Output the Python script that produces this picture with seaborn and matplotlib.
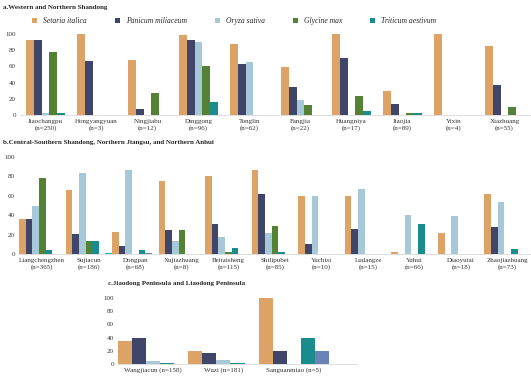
import numpy as np
import pandas as pd
import matplotlib
matplotlib.use("Agg")
import matplotlib.pyplot as plt
import seaborn as sns

sns.set_theme(style="white")
plt.rcParams["font.family"] = ["Liberation Serif", "DejaVu Serif"]

# panel a
sites_a = ["Jiaochangpu\n(n=250)", "Hongyangyuan\n(n=3)", "Ningjiabu\n(n=12)", "Dinggong\n(n=96)",
           "Tonglin\n(n=62)", "Fangjia\n(n=22)", "Huangniya\n(n=17)", "Jiaojia\n(n=89)",
           "Yixin\n(n=4)", "Xiazhuang\n(n=55)"]
setaria_a = [92, 100, 68, 99, 88, 59, 100, 30, 100, 85]
panicum_a = [92, 67, 8, 92, 63, 35, 70, 14, 0, 37]
oryza_a = [2.5, 0, 0, 90, 65, 18, 0, 0, 0, 0]
glycine_a = [78, 0, 27, 60, 0, 12, 23, 3, 0, 10]
triticum_a = [2.5, 0, 0, 16, 0, 0, 5, 2, 0, 0]

# panel b
sites_b = ["Liangchengzhen\n(n=365)", "Sujiacun\n(n=186)", "Dongpan\n(n=68)", "Xujiazhuang\n(n=8)",
           "Beitaisheng\n(n=115)", "Shilipubei\n(n=85)", "Yuchisi\n(n=10)", "Ludangze\n(n=15)",
           "Yuhui\n(n=66)", "Diaoyutai\n(n=18)", "Zhaojiazhuang\n(n=73)"]
setaria_b = [36, 66, 23, 75, 80, 87, 60, 60, 2.5, 22, 62]
panicum_b = [36, 21, 8, 25, 31, 62, 10, 26, 0, 0, 28]
oryza_b = [49, 84, 87, 13, 18, 22, 60, 67, 40, 39, 54]
glycine_b = [78, 13, 0, 25, 2.5, 29, 0, 0, 0, 0, 0]
triticum_b = [4, 13, 4, 0, 6, 2.5, 0, 0, 31, 0, 5.5]
hordeum_b = [0, 0, 1.5, 0, 0, 0, 0, 0, 0, 0, 0]
other_b = [0, 1.5, 0, 0, 0, 0, 0, 0, 0, 0, 0]

# panel c
sites_c = ["Wangjiacun (n=158)", "Wuzi (n=181)", "Sanguanmiao (n=5)"]
setaria_c = [35, 19, 100]
panicum_c = [40, 16, 20]
oryza_c = [4, 5.5, 0]
triticum_c = [2, 2, 40]
hordeum_c = [0, 0, 20]

c_set, c_pan, c_ory = "#DDA265", "#3F4669", "#A6C8D8"
c_gly, c_tri, c_hor, c_oth = "#548235", "#1A8C8C", "#6B82B8", "#2CB5C8"

def long(sites, cols):
    df = pd.DataFrame({"site": sites, **cols})
    return df.melt(id_vars="site", var_name="crop", value_name="pct")

df_a = long(sites_a, {"Setaria italica": setaria_a, "Panicum miliaceum": panicum_a,
                      "Oryza sativa": oryza_a, "Glycine max": glycine_a,
                      "Triticum aestivum": triticum_a})
df_b = long(sites_b, {"Setaria italica": setaria_b, "Panicum miliaceum": panicum_b,
                      "Oryza sativa": oryza_b, "Glycine max": glycine_b,
                      "Triticum aestivum": triticum_b, "Hordeum vulgare": hordeum_b,
                      "Other": other_b})
df_c = long(sites_c, {"Setaria italica": setaria_c, "Panicum miliaceum": panicum_c,
                      "Oryza sativa": oryza_c, "Triticum aestivum": triticum_c,
                      "Hordeum vulgare": hordeum_c})

fig = plt.figure(figsize=(5.31, 3.76), dpi=100)
ax_a = fig.add_axes([0.0377, 0.6941, 0.9604, 0.2155])
ax_b = fig.add_axes([0.0358, 0.3245, 0.9642, 0.2579])
ax_c = fig.add_axes([0.2222, 0.0319, 0.4501, 0.1755])

sns.barplot(data=df_a, x="site", y="pct", hue="crop", ax=ax_a, width=0.77, linewidth=0,
            palette=[c_set, c_pan, c_ory, c_gly, c_tri], saturation=1)
sns.barplot(data=df_b, x="site", y="pct", hue="crop", ax=ax_b, width=1.0, linewidth=0,
            palette=[c_set, c_pan, c_ory, c_gly, c_tri, c_hor, c_oth], saturation=1, legend=False)
sns.barplot(data=df_c, x="site", y="pct", hue="crop", ax=ax_c, width=1.0, linewidth=0,
            palette=[c_set, c_pan, c_ory, c_tri, c_hor], saturation=1, legend=False)

for ax, n in [(ax_a, len(sites_a)), (ax_b, len(sites_b)), (ax_c, None)]:
    ax.set_ylim(0, 100)
    ax.set_yticks(range(0, 101, 20))
    ax.set_xlabel("")
    ax.set_ylabel("")
    for s in ["left", "right", "top"]:
        ax.spines[s].set_visible(False)
    ax.spines["bottom"].set_color("#d9d9d9")
    ax.spines["bottom"].set_linewidth(0.6)
    ax.tick_params(axis="both", length=0, labelsize=5, pad=3, colors="#333333")
    if n:
        ax.set_xlim(-0.5, n - 0.5)
ax_c.set_xlim(-0.5, 2.9)
ax_c.tick_params(axis="x", pad=2)

sns.move_legend(ax_a, "center", bbox_to_anchor=(0.42, 1.16), ncol=5, frameon=False, title=None,
                handlelength=0.7, handleheight=0.7, columnspacing=3.6, handletextpad=0.8,
                prop={"style": "italic", "size": 5.5})

fig.text(0.006, 1 - 7 / 376, "a.Western and Northern Shandong", fontsize=5, fontweight="bold",
         va="center")
fig.text(0.006, 1 - 143 / 376, "b.Central-Southern Shandong, Northern Jiangsu, and Northern Anhui",
         fontsize=5, fontweight="bold", va="center")
fig.text(108 / 531, 1 - 283 / 376, "c.Jiaodong Peninsula and Liaodong Peninsula", fontsize=5,
         fontweight="bold", va="center")

fig.savefig("out.png", dpi=100)
